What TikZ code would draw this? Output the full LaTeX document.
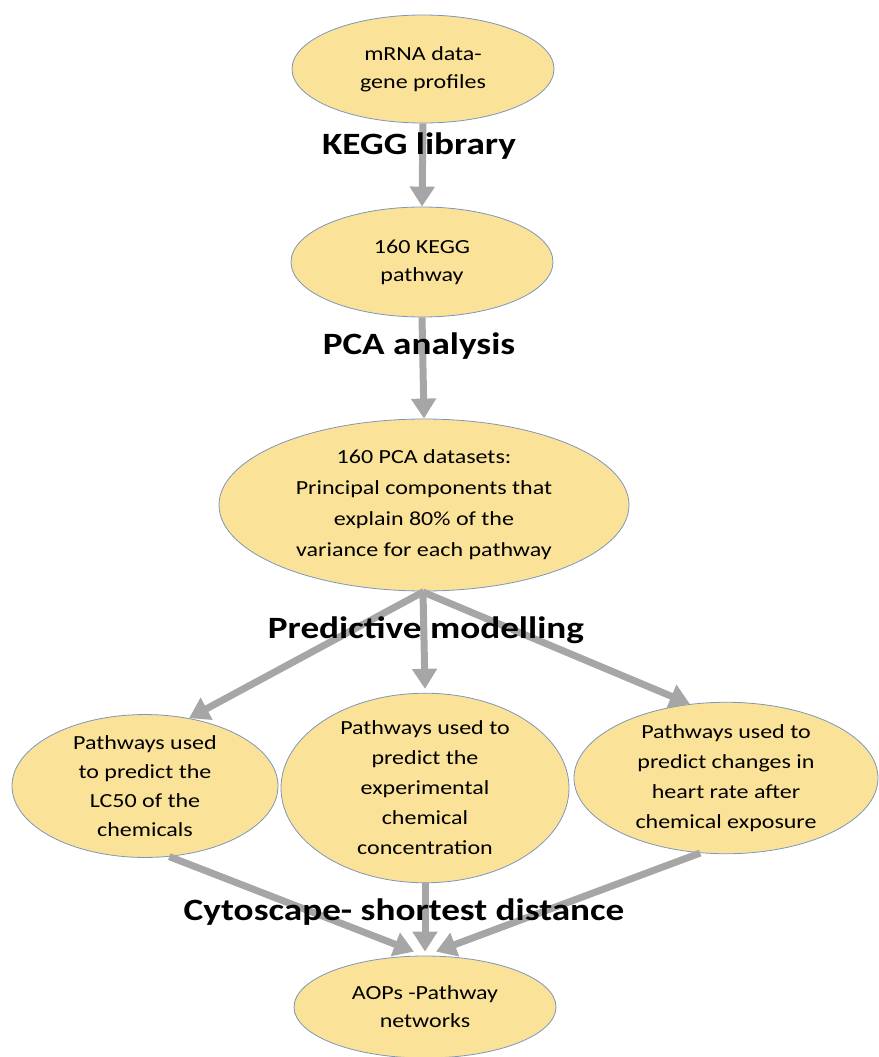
\documentclass[tikz,border=0pt]{standalone}
\usepackage{fontspec}
\setmainfont{Carlito}[FakeStretch=1.2]
\usetikzlibrary{shapes.geometric,arrows.meta,calc}
\definecolor{ellfill}{HTML}{FAE298}
\definecolor{elldraw}{HTML}{7F96B8}
\definecolor{arrgray}{HTML}{A6A6A6}
\tikzset{
  ell/.style={ellipse, draw=elldraw, line width=0.8pt, fill=ellfill, inner sep=0pt,
    align=center, font=\fontsize{20}{28}\selectfont, text=black},
  arr/.style={draw=arrgray, line width=7pt, -{Triangle[length=20pt,width=24pt]}},
  lbl/.style={font=\fontsize{31}{36}\selectfont\bfseries, text=black, inner sep=0pt}
}
\begin{document}
\begin{tikzpicture}[x=1pt,y=-1pt]
\useasboundingbox (0,0) rectangle (878,1057);
% nodes
\node[ell, minimum width=262pt, minimum height=108pt] (n1) at (423,69) {mRNA data-\\gene profiles};
\node[ell, minimum width=262pt, minimum height=110pt] (n2) at (422,262) {160 KEGG\\pathway};
\node[ell, minimum width=410pt, minimum height=172pt, font=\fontsize{20}{31}\selectfont] (n3) at (424,505)
  {160 PCA datasets:\\Principal components that\\explain 80\% of the\\variance for each pathway};
\node[ell, minimum width=266pt, minimum height=136pt, font=\fontsize{20}{29}\selectfont] (n4) at (145,786)
  {Pathways used\\to predict the\\LC50 of the\\chemicals};
\node[ell, minimum width=288pt, minimum height=168pt, font=\fontsize{20}{30}\selectfont] (n5) at (425,788)
  {Pathways used to\\predict the\\experimental\\chemical\\concentration};
\node[ell, minimum width=304pt, minimum height=150pt, font=\fontsize{20}{30}\selectfont] (n6) at (726,778)
  {Pathways used to\\predict changes in\\heart rate after\\chemical exposure};
\node[ell, minimum width=262pt, minimum height=102pt] (n7) at (425,1007) {AOPs -Pathway\\networks};
% connectors
\coordinate (j) at (423,592);
\draw[arr] (n1.south) -- (n2.north);
\draw[arr] (n2.south) -- (n3.north);
\draw[arrgray, line width=7pt] (n3.south) -- (j);
\draw[arr] (j) -- (n4.57);
\draw[arr] (j) -- ([yshift=4pt]n5.north);
\draw[arr] (j) -- (n6.116);
\draw[arr] (n4.-71) -- ([xshift=-11pt,yshift=4pt]n7.north);
\draw[arr] (n5.south) -- ([yshift=4pt]n7.north);
\draw[arr] (n6.-109) -- ([xshift=11pt,yshift=4pt]n7.north);
% labels
\node[lbl] (l1) at (419,146) {KEGG library};
\node[lbl] (l2) at (419,346) {PCA analysis};
\node[lbl] (l3) at (426,630) {Predictive modelling};
\node[lbl] (l4) at (404,912) {Cytoscape- shortest distance};
\end{tikzpicture}
\end{document}
